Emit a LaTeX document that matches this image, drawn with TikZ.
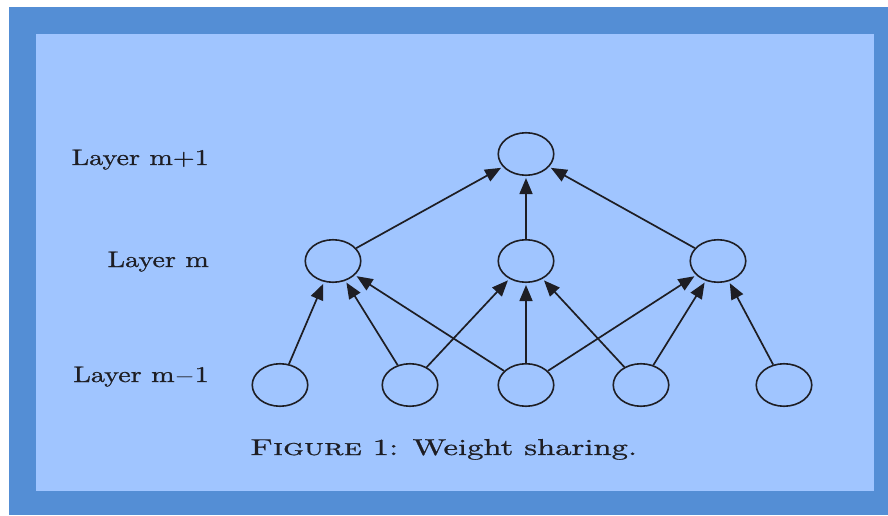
\documentclass[tikz,border=0pt]{standalone}
\usepackage{fontspec}
\setmainfont{lmroman10-regular.otf}[FakeBold=0.7,
    SmallCapsFont=lmromancaps10-regular.otf, SmallCapsFeatures={FakeBold=0.7}]
\usepackage{graphicx}
\usetikzlibrary{positioning, arrows.meta, shapes.geometric}

\definecolor{frameblue}{RGB}{84,142,213}
\definecolor{paneblue}{RGB}{160,197,255}
\definecolor{inkgray}{RGB}{30,30,36}

\newcommand{\wide}[2][1.25]{\scalebox{#1}[1]{#2}}

\begin{document}
\begin{tikzpicture}[x=1pt, y=1pt,
    % Styles
    unit/.style={draw=inkgray, ellipse, line width=1.6pt, minimum width=55.5pt, minimum height=42.5pt, inner sep=0pt},
    link/.style={-{Triangle[length=16pt, width=13pt]}, line width=1.7pt, draw=inkgray, shorten >=2pt},
    layerlabel/.style={font=\fontsize{22.5}{26}\selectfont, text=inkgray, anchor=base east, inner sep=0pt},
    caption/.style={font=\fontsize{23}{27}\selectfont, text=inkgray, anchor=base, inner sep=0pt},
]

% Background panels
\useasboundingbox (0,0) rectangle (888,515);
\fill[white] (0,0) rectangle (888,515);
\fill[frameblue] (9,0) rectangle (888,508);
\fill[paneblue] (36,24) rectangle (874,481);

% Layer m+1
\node[unit] (top) at (526,361) {};

% Layer m
\node[unit] (mid1) at (333,254) {};
\node[unit] (mid2) at (526,254) {};
\node[unit] (mid3) at (718,254) {};

% Layer m-1
\node[unit] (low1) at (280,130) {};
\node[unit] (low2) at (410,130) {};
\node[unit] (low3) at (526,130) {};
\node[unit] (low4) at (641,130) {};
\node[unit] (low5) at (784,130) {};

% Row labels
\node[layerlabel] (lbltop) at (209,350) {\wide{Layer m+1}};
\node[layerlabel] (lblmid) at (209,248) {\wide{Layer m}};
\node[layerlabel] (lbllow) at (209,133) {\wide{Layer m$-$1}};

% Shared connections, layer m-1 to layer m
\draw[link] (low1) -- (mid1);
\draw[link] (low2) -- (mid1);
\draw[link] (low2) -- (mid2);
\draw[link] (low3) -- (mid1);
\draw[link] (low3) -- (mid2);
\draw[link] (low3) -- (mid3);
\draw[link] (low4) -- (mid2);
\draw[link] (low4) -- (mid3);
\draw[link] (low5) -- (mid3);

% Layer m to layer m+1
\draw[link] (mid1) -- (top);
\draw[link] (mid2) -- (top);
\draw[link] (mid3) -- (top);

% Caption
\node[caption] (fig) at (443.5,60) {\wide[1.42]{{\scshape Figure} 1: Weight sharing.}};

\end{tikzpicture}
\end{document}
